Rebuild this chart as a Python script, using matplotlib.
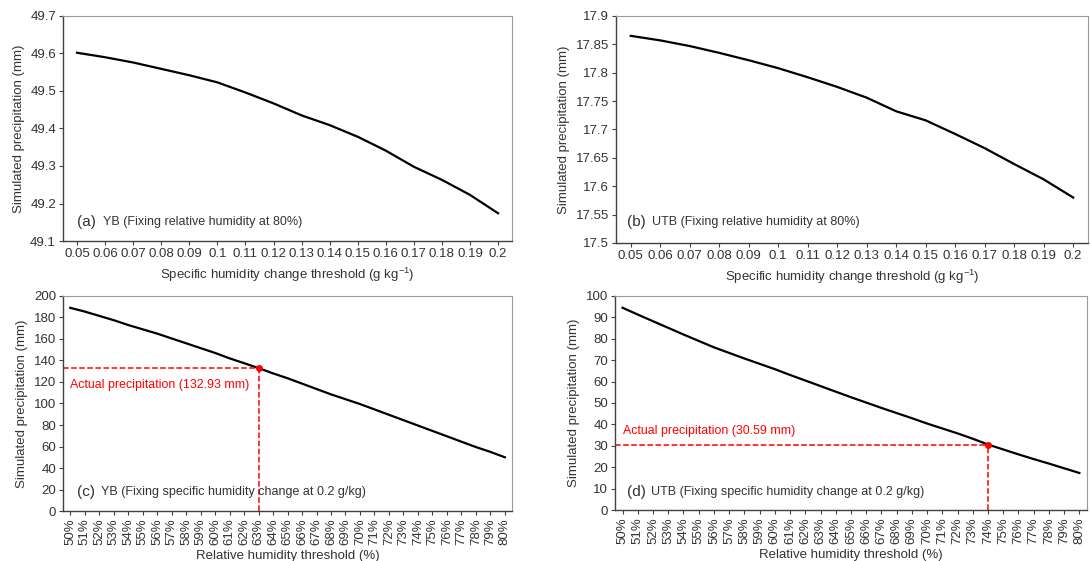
import matplotlib
matplotlib.use("Agg")
import matplotlib.pyplot as plt

plt.rcParams["font.family"] = ["Liberation Sans", "DejaVu Sans"]
plt.rcParams["mathtext.fontset"] = "custom"
plt.rcParams["mathtext.rm"] = "Liberation Sans"

# data
sh_labels = ["0.05", "0.06", "0.07", "0.08", "0.09", "0.1", "0.11", "0.12",
             "0.13", "0.14", "0.15", "0.16", "0.17", "0.18", "0.19", "0.2"]
yb_sh = [49.602, 49.590, 49.576, 49.559, 49.542, 49.523, 49.496, 49.467,
         49.435, 49.409, 49.378, 49.341, 49.298, 49.263, 49.223, 49.174]
utb_sh = [17.865, 17.857, 17.847, 17.835, 17.822, 17.808, 17.792, 17.775,
          17.756, 17.732, 17.716, 17.692, 17.667, 17.639, 17.612, 17.580]

rh_labels = [f"{v}%" for v in range(50, 81)]
yb_rh = [189.0, 185.5, 181.5, 177.5, 173.0, 169.0, 165.0, 160.5, 156.0, 151.5,
         147.0, 142.0, 137.5, 132.93, 128.0, 123.5, 118.5, 113.5, 108.5, 104.0,
         99.5, 94.5, 89.5, 84.5, 79.5, 74.5, 69.5, 64.5, 59.5, 55.0, 50.0]
utb_rh = [94.5, 91.3, 88.2, 85.1, 82.0, 79.0, 76.0, 73.4, 70.8, 68.3,
          65.8, 63.1, 60.5, 57.9, 55.3, 52.7, 50.2, 47.7, 45.3, 42.9,
          40.4, 38.1, 35.8, 33.3, 30.59, 28.3, 26.0, 23.8, 21.7, 19.5, 17.3]

yb_actual_idx, yb_actual = 13, 132.93
utb_actual_idx, utb_actual = 24, 30.59

fig = plt.figure(figsize=(10.9, 5.61), dpi=100)
ax_a = fig.add_axes([0.0578, 0.5704, 0.412, 0.4011])
ax_b = fig.add_axes([0.5651, 0.5670, 0.4330, 0.4045])
ax_c = fig.add_axes([0.0578, 0.0891, 0.412, 0.3833])
ax_d = fig.add_axes([0.5642, 0.0909, 0.4330, 0.3815])

TXT = "#333333"


def style(ax, labels, ylim, yticks, rotate=False):
    ax.set_xlim(-0.5, len(labels) - 0.5)
    ax.set_ylim(*ylim)
    ax.set_yticks(yticks)
    ax.set_xticks(range(len(labels)))
    ax.set_xticklabels(labels, rotation=90 if rotate else 0)
    for s in ["top", "right"]:
        ax.spines[s].set_color("#9a9a9a")
        ax.spines[s].set_linewidth(0.8)
    for s in ["left", "bottom"]:
        ax.spines[s].set_color("#404040")
        ax.spines[s].set_linewidth(1.0)
    ax.tick_params(axis="both", direction="out", length=3, width=0.8,
                   labelsize=9.5, colors="#404040", labelcolor=TXT, pad=2)
    ax.set_ylabel("Simulated precipitation (mm)", fontsize=9.5, color=TXT)


def panel_label(ax, tag, text, y, x_tag, x_txt):
    ax.text(x_tag, y, tag, transform=ax.transAxes, fontsize=11, color=TXT, va="center")
    ax.text(x_txt, y, text, transform=ax.transAxes, fontsize=9, color=TXT, va="center")


style(ax_a, sh_labels, (49.1, 49.7), [49.1 + 0.1 * i for i in range(7)])
ax_a.set_yticklabels([f"{49.1 + 0.1 * i:.1f}" for i in range(7)])
ax_a.plot(range(len(sh_labels)), yb_sh, color="black", lw=1.6)
ax_a.set_xlabel(r"Specific humidity change threshold (g kg$^{-1}$)", fontsize=9.5, color=TXT)
panel_label(ax_a, "(a)", "YB (Fixing relative humidity at 80%)", 0.085, 0.031, 0.088)

style(ax_b, sh_labels, (17.5, 17.9), [17.5 + 0.05 * i for i in range(9)])
ax_b.set_yticklabels(["17.5", "17.55", "17.6", "17.65", "17.7", "17.75", "17.8", "17.85", "17.9"])
ax_b.plot(range(len(sh_labels)), utb_sh, color="black", lw=1.6)
ax_b.set_xlabel(r"Specific humidity change threshold (g kg$^{-1}$)", fontsize=9.5, color=TXT)
panel_label(ax_b, "(b)", "UTB (Fixing relative humidity at 80%)", 0.092, 0.023, 0.077)

style(ax_c, rh_labels, (0, 200), range(0, 201, 20), rotate=True)
ax_c.plot(range(len(rh_labels)), yb_rh, color="black", lw=1.6)
ax_c.plot([-0.5, yb_actual_idx], [yb_actual, yb_actual], color="red", ls="--", lw=1.1)
ax_c.plot([yb_actual_idx, yb_actual_idx], [0, yb_actual], color="red", ls="--", lw=1.1)
ax_c.plot([yb_actual_idx], [yb_actual], "o", color="red", ms=4)
ax_c.text(-0.02, 117, "Actual precipitation (132.93 mm)", fontsize=8.9, color="red", va="center")
ax_c.set_xlabel("Relative humidity threshold (%)", fontsize=9.5, color=TXT)
panel_label(ax_c, "(c)", "YB (Fixing specific humidity change at 0.2 g/kg)", 0.088, 0.031, 0.084)

style(ax_d, rh_labels, (0, 100), range(0, 101, 10), rotate=True)
ax_d.plot(range(len(rh_labels)), utb_rh, color="black", lw=1.6)
ax_d.plot([-0.5, utb_actual_idx], [utb_actual, utb_actual], color="red", ls="--", lw=1.1)
ax_d.plot([utb_actual_idx, utb_actual_idx], [0, utb_actual], color="red", ls="--", lw=1.1)
ax_d.plot([utb_actual_idx], [utb_actual], "o", color="red", ms=4)
ax_d.text(0.02, 36.9, "Actual precipitation (30.59 mm)", fontsize=8.9, color="red", va="center")
ax_d.set_xlabel("Relative humidity threshold (%)", fontsize=9.5, color=TXT)
panel_label(ax_d, "(d)", "UTB (Fixing specific humidity change at 0.2 g/kg)", 0.084, 0.025, 0.077)

fig.savefig("out.png", dpi=100)
